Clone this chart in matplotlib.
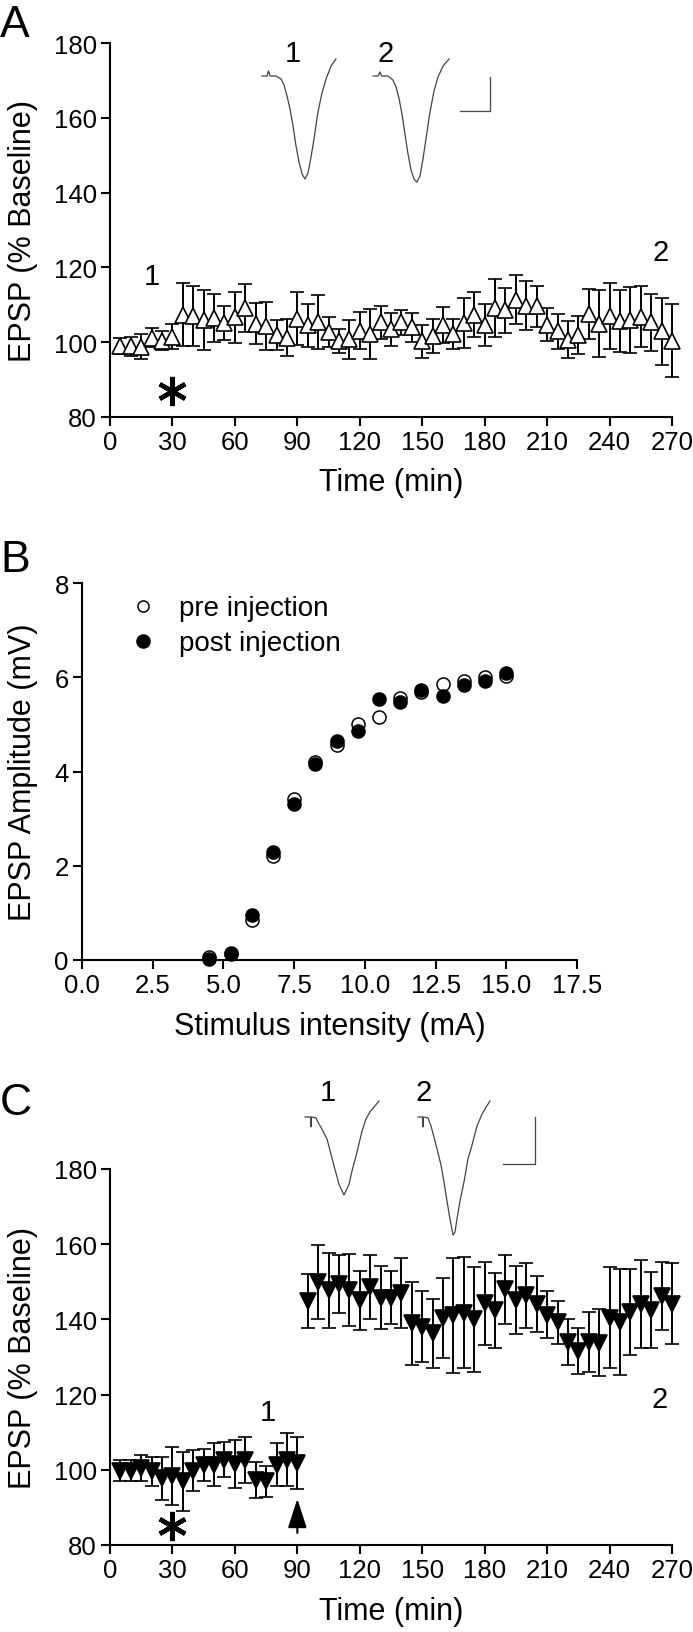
"""
EPSP time courses (A, C) and input/output curve (B), three stacked panels.
"""

import matplotlib

matplotlib.use("Agg")
import matplotlib.pyplot as plt
from matplotlib.lines import Line2D
from matplotlib.patches import ArrowStyle

plt.rcParams["font.family"] = ["Liberation Sans", "DejaVu Sans"]

W, H = 693, 1633

# ---- panel A: time course, open triangles
TIME_A = [5, 10, 15, 20, 25, 30, 35, 40, 45, 50, 55, 60, 65, 70, 75, 80, 85, 90,
          95, 100, 105, 110, 115, 120, 125, 130, 135, 140, 145, 150, 155, 160, 165, 170,
          175, 180, 185, 190, 195, 200, 205, 210, 215, 220, 225, 230, 235, 240, 245, 250,
          255, 260, 265, 270]
MEAN_A = [99.0, 98.9, 98.8, 101.2, 100.4, 101.5, 107.4, 107.0, 106.0, 106.5, 105.2, 106.7,
          109.1, 104.9, 104.3, 102.0, 101.2, 106.3, 104.5, 105.3, 102.8, 100.3, 100.8, 103.1,
          102.2, 105.3, 103.4, 105.3, 104.0, 100.2, 101.7, 104.5, 102.3, 105.1, 107.4, 104.5,
          109.1, 108.5, 111.4, 109.8, 109.6, 104.7, 102.9, 100.7, 102.0, 107.6, 105.0, 107.0,
          105.7, 105.9, 106.8, 105.3, 102.9, 100.4]
SEM_A = [2.2, 2.5, 3.3, 2.6, 2.5, 3.3, 8.5, 8.0, 8.0, 6.5, 4.5, 6.8, 6.5, 5.5, 6.5, 4.0,
         5.0, 7.0, 5.8, 7.2, 4.0, 3.2, 5.2, 5.0, 6.7, 4.5, 4.3, 3.4, 3.9, 4.5, 4.5, 4.8,
         4.0, 6.6, 6.0, 5.6, 7.7, 6.1, 6.5, 6.5, 5.5, 4.5, 4.6, 5.0, 5.1, 6.7, 9.0, 8.8,
         8.2, 8.8, 8.1, 7.7, 9.0, 9.7]

# ---- panel B: input/output
STIM = [4.5, 5.25, 6.0, 6.75, 7.5, 8.25, 9.0, 9.75, 10.5, 11.25, 12.0, 12.75, 13.5, 14.25, 15.0]
PRE = [0.07, 0.12, 0.85, 2.2, 3.42, 4.2, 4.57, 5.0, 5.16, 5.57, 5.68, 5.85, 5.93, 6.0, 6.02]
POST = [0.03, 0.14, 0.95, 2.3, 3.32, 4.16, 4.65, 4.86, 5.54, 5.48, 5.73, 5.6, 5.84, 5.93, 6.08]

# ---- panel C: time course, filled inverted triangles
TIME_C = TIME_A
MEAN_C = [99.8, 99.8, 100.4, 99.6, 97.8, 98.4, 96.9, 99.8, 101.3, 101.3, 102.7, 101.6,
          102.7, 97.3, 96.9, 101.3, 102.7, 101.8,
          145.0, 150.0, 147.7, 149.5, 147.9, 145.1, 148.6, 145.8, 145.8, 147.0, 139.0, 138.1,
          136.3, 140.3, 141.1, 141.8, 140.0, 144.3, 142.4, 148.0, 145.1, 146.4, 144.1, 141.3,
          139.2, 134.0, 131.6, 134.0, 133.8, 140.5, 139.3, 142.0, 144.1, 142.5, 146.3, 144.2]
SEM_C = [2.7, 2.8, 3.5, 3.9, 5.7, 7.7, 7.9, 5.4, 4.3, 5.7, 4.7, 6.4, 6.1, 4.9, 4.2, 5.7,
         7.1, 6.9,
         7.2, 9.8, 10.0, 7.7, 9.6, 7.8, 8.4, 8.4, 7.1, 9.4, 11.0, 9.4, 9.2, 10.6, 15.3, 14.7,
         14.0, 11.0, 10.0, 9.2, 9.0, 8.7, 7.5, 6.3, 5.7, 6.2, 6.0, 7.9, 8.9, 13.5, 14.0, 11.4,
         11.7, 10.0, 9.0, 10.8]

# ---- sample traces (ms, mV)
A1_MS = [0, 0.83, 1.08, 1.33, 2.33, 3.17, 3.67, 4.17, 4.67, 5.17, 5.67, 6.17, 6.67, 7.17,
         7.67, 8.17, 8.67, 9.33, 10.0, 10.67, 11.5, 12.33]
A1_MV = [0, 0, 0.15, 0, 0, -0.09, -0.26, -0.59, -0.97, -1.47, -2.06, -2.53, -2.88, -3.03,
         -2.85, -2.38, -1.85, -1.06, -0.5, -0.09, 0.29, 0.5]
A2_MS = [0, 0.83, 1.17, 1.42, 2.5, 3.33, 3.83, 4.33, 4.83, 5.33, 5.83, 6.33, 6.83, 7.33,
         7.83, 8.33, 8.83, 9.5, 10.17, 10.83, 11.67, 12.67]
A2_MV = [0, 0, 0.12, 0, 0, -0.12, -0.32, -0.65, -1.12, -1.71, -2.29, -2.76, -3.03, -3.12,
         -2.94, -2.44, -1.85, -1.06, -0.44, -0.03, 0.29, 0.5]
C1_MS = [0, 0.63, 0.86, 0.94, 1.02, 1.72, 2.03, 2.66, 3.44, 4.06, 4.53, 5.31, 6.09, 6.88,
         7.34, 7.97, 8.91, 9.53, 10.16, 11.56]
C1_MV = [0, 0, 0, -0.21, 0, -0.02, -0.11, -0.26, -0.47, -0.79, -1.04, -1.43, -1.66, -1.43,
         -1.15, -0.83, -0.30, -0.04, 0.11, 0.34]
C2_MS = [0, 0.63, 0.70, 0.78, 0.86, 1.56, 2.03, 2.5, 2.97, 3.59, 4.06, 4.53, 5.0, 5.47,
         5.78, 6.09, 6.56, 7.19, 7.81, 8.28, 9.22, 10.0, 10.63, 11.25]
C2_MV = [0, 0, 0, -0.21, 0, -0.02, -0.19, -0.43, -0.68, -1.02, -1.38, -1.79, -2.17, -2.51,
         -2.45, -2.17, -1.79, -1.38, -0.89, -0.68, -0.19, 0.06, 0.21, 0.34]

TICK_FS = 18.5
LABEL_FS = 22
NUM_FS = 21
LW = 1.5


def px_rect(left, top, right, bottom):
    return [left / W, 1 - bottom / H, (right - left) / W, (bottom - top) / H]


def style(ax):
    for s in ("top", "right"):
        ax.spines[s].set_visible(False)
    for s in ("left", "bottom"):
        ax.spines[s].set_linewidth(LW)
    ax.tick_params(direction="out", length=6.5, width=LW, labelsize=TICK_FS, pad=3)


def time_axes(ax):
    style(ax)
    ax.set_xlim(0, 270)
    ax.set_ylim(80, 180)
    ax.set_xticks(range(0, 271, 30))
    ax.set_yticks(range(80, 181, 20))
    ax.set_xlabel("Time (min)", fontsize=LABEL_FS)
    ax.set_ylabel("EPSP (% Baseline)", fontsize=LABEL_FS)
    ax.xaxis.set_label_coords(0.5, -0.135)
    ax.yaxis.set_label_coords(-0.128, 0.5)


def trace_axes(fig, x0, y0, px_ms, px_mv, ms_lim, mv_lim):
    left = x0 + ms_lim[0] * px_ms
    right = x0 + ms_lim[1] * px_ms
    top = y0 - mv_lim[1] * px_mv
    bottom = y0 - mv_lim[0] * px_mv
    ax = fig.add_axes(px_rect(left, top, right, bottom))
    ax.set_xlim(ms_lim)
    ax.set_ylim(mv_lim)
    ax.axis("off")
    return ax


def star(ax, t, v):
    ax.plot(t, v, marker=(6, 2, 0), ms=21, mew=3.2, color="k", clip_on=False)


def main():
    fig = plt.figure(figsize=(W / 100, H / 100), dpi=100)
    tr = dict(color="#444444", lw=0.9)

    # ---------------- A
    ax = fig.add_axes(px_rect(110, 44, 672, 418))
    time_axes(ax)
    ax.errorbar(TIME_A, MEAN_A, yerr=SEM_A, fmt="^", ms=11, mfc="white", mec="k", mew=1.2,
                ecolor="k", elinewidth=1.4, capsize=4.7, capthick=1.4, clip_on=False)
    ax.text(20, 117.7, "1", fontsize=NUM_FS, ha="center", va="center")
    ax.text(264.5, 124.1, "2", fontsize=NUM_FS, ha="center", va="center")
    star(ax, 30, 87)

    t1 = trace_axes(fig, 262, 77, 6, 34, (-1, 14), (-3.4, 0.7))
    t1.plot(A1_MS, A1_MV, **tr)
    t2 = trace_axes(fig, 373, 77, 6, 34, (-1, 21), (-3.4, 0.7))
    t2.plot(A2_MS, A2_MV, **tr)
    t2.plot([14.5, 19.5, 19.5], [-1.03, -1.03, -0.03], **tr)
    fig.text(293 / W, 1 - 54 / H, "1", fontsize=NUM_FS, ha="center", va="center")
    fig.text(386 / W, 1 - 54 / H, "2", fontsize=NUM_FS, ha="center", va="center")

    # ---------------- B
    bx = fig.add_axes(px_rect(82, 584, 577, 961))
    style(bx)
    bx.set_xlim(0, 17.5)
    bx.set_ylim(0, 8)
    bx.set_xticks([0, 2.5, 5, 7.5, 10, 12.5, 15, 17.5])
    bx.set_xticklabels(["0.0", "2.5", "5.0", "7.5", "10.0", "12.5", "15.0", "17.5"])
    bx.set_yticks(range(0, 9, 2))
    bx.set_xlabel("Stimulus intensity (mA)", fontsize=LABEL_FS)
    bx.set_ylabel("EPSP Amplitude (mV)", fontsize=LABEL_FS)
    bx.xaxis.set_label_coords(0.5, -0.135)
    bx.yaxis.set_label_coords(-0.089, 0.5)
    bx.plot(STIM, PRE, "o", ms=9.4, mfc="white", mec="k", mew=1.1, clip_on=False)
    bx.plot(STIM, POST, "o", ms=9.4, mfc="k", mec="k", mew=1.1, clip_on=False)
    handles = [
        Line2D([], [], ls="none", marker="o", ms=8, mfc="white", mec="k", mew=1.1),
        Line2D([], [], ls="none", marker="o", ms=9.4, mfc="k", mec="k", mew=1.1),
    ]
    bx.legend(handles, ["pre injection", "post injection"], loc="upper left",
              bbox_to_anchor=(0.095, 0.967), frameon=False, fontsize=20,
              handlelength=1.0, handletextpad=0.8, labelspacing=0.32,
              borderpad=0, borderaxespad=0)

    # ---------------- C
    cx = fig.add_axes(px_rect(110, 1170, 672, 1546))
    time_axes(cx)
    cx.errorbar(TIME_C, MEAN_C, yerr=SEM_C, fmt="v", ms=11, mfc="k", mec="k", mew=1.2,
                ecolor="k", elinewidth=1.4, capsize=4.7, capthick=1.4, clip_on=False)
    cx.text(76, 115.5, "1", fontsize=NUM_FS, ha="center", va="center")
    cx.text(264, 118.9, "2", fontsize=NUM_FS, ha="center", va="center")
    star(cx, 30, 85)
    cx.annotate("", xy=(90, 92.3), xytext=(90, 83.2),
                arrowprops=dict(arrowstyle=ArrowStyle("-|>", head_length=18, head_width=5.8),
                                mutation_scale=1, lw=1.5, color="k",
                                shrinkA=0, shrinkB=0))

    c1 = trace_axes(fig, 305, 1118, 6.4, 47, (-1, 13), (-2.8, 0.5))
    c1.plot(C1_MS, C1_MV, **tr)
    c2 = trace_axes(fig, 418, 1118, 6.4, 47, (-1, 20), (-2.8, 0.5))
    c2.plot(C2_MS, C2_MV, **tr)
    c2.plot([13.3, 18.3, 18.3], [-1, -1, 0], **tr)
    fig.text(328 / W, 1 - 1093 / H, "1", fontsize=NUM_FS, ha="center", va="center")
    fig.text(424 / W, 1 - 1093 / H, "2", fontsize=NUM_FS, ha="center", va="center")

    # panel letters
    for letter, base in (("A", 37), ("B", 572), ("C", 1115)):
        fig.text(0, 1 - base / H, letter, fontsize=32, ha="left", va="baseline")

    fig.savefig("out.png", dpi=100)
    plt.close(fig)
    return 0


if __name__ == "__main__":
    raise SystemExit(main())
